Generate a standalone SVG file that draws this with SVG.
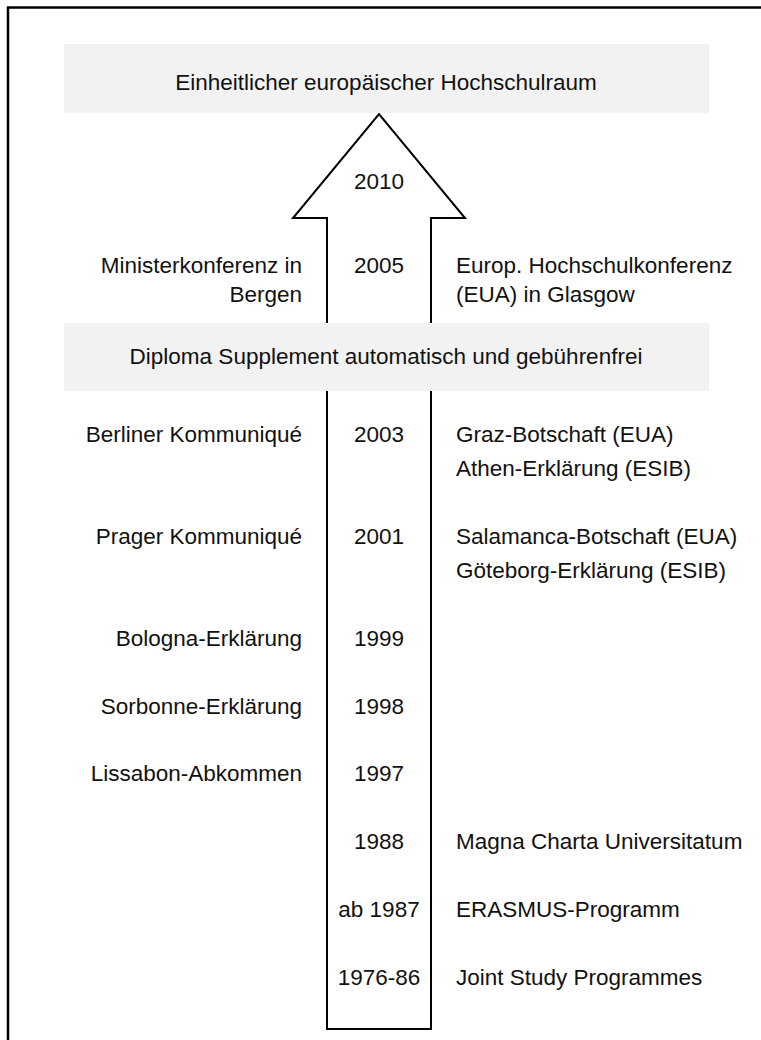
<svg xmlns="http://www.w3.org/2000/svg" width="761" height="1040" viewBox="0 0 761 1040">
<style>
text{font-family:"Liberation Sans",Arial,sans-serif;font-size:22.5px;fill:#111}
.l{text-anchor:end}
.c{text-anchor:middle}
.r{text-anchor:start}
.band{fill:#f2f2f2}
.frame{fill:none;stroke:#000;stroke-width:2.5}
.arrow{fill:#fff;stroke:#000;stroke-width:2}
</style>
<rect class="frame" x="8" y="7.5" width="780" height="1080"/>
<g id="arrow">
<polygon class="arrow" points="327,1029 327,218 293,218 379,114 465,218 431,218 431,1029"/>
</g>
<g id="band-top">
<rect class="band" x="64" y="44" width="645" height="69"/>
<text class="c" x="386" y="90">Einheitlicher europäischer Hochschulraum</text>
</g>
<g id="band-mid">
<rect class="band" x="64" y="323" width="645" height="68"/>
<text class="c" x="386" y="364">Diploma Supplement automatisch und gebührenfrei</text>
</g>
<g id="row-2010">
<text class="c" x="379" y="189">2010</text>
</g>
<g id="row-2005">
<text class="l" x="302" y="273">Ministerkonferenz in</text>
<text class="l" x="302" y="302">Bergen</text>
<text class="c" x="379" y="273">2005</text>
<text class="r" x="456" y="273">Europ. Hochschulkonferenz</text>
<text class="r" x="456" y="302">(EUA) in Glasgow</text>
</g>
<g id="row-2003">
<text class="l" x="302" y="442">Berliner Kommuniqué</text>
<text class="c" x="379" y="442">2003</text>
<text class="r" x="456" y="442">Graz-Botschaft (EUA)</text>
<text class="r" x="456" y="476">Athen-Erklärung (ESIB)</text>
</g>
<g id="row-2001">
<text class="l" x="302" y="544">Prager Kommuniqué</text>
<text class="c" x="379" y="544">2001</text>
<text class="r" x="456" y="544">Salamanca-Botschaft (EUA)</text>
<text class="r" x="456" y="578">Göteborg-Erklärung (ESIB)</text>
</g>
<g id="row-1999">
<text class="l" x="302" y="646">Bologna-Erklärung</text>
<text class="c" x="379" y="646">1999</text>
</g>
<g id="row-1998">
<text class="l" x="302" y="714">Sorbonne-Erklärung</text>
<text class="c" x="379" y="714">1998</text>
</g>
<g id="row-1997">
<text class="l" x="302" y="781">Lissabon-Abkommen</text>
<text class="c" x="379" y="781">1997</text>
</g>
<g id="row-1988">
<text class="c" x="379" y="849">1988</text>
<text class="r" x="456" y="849">Magna Charta Universitatum</text>
</g>
<g id="row-1987">
<text class="c" x="379" y="917">ab 1987</text>
<text class="r" x="456" y="917">ERASMUS-Programm</text>
</g>
<g id="row-1976">
<text class="c" x="379" y="985">1976-86</text>
<text class="r" x="456" y="985">Joint Study Programmes</text>
</g>
</svg>
